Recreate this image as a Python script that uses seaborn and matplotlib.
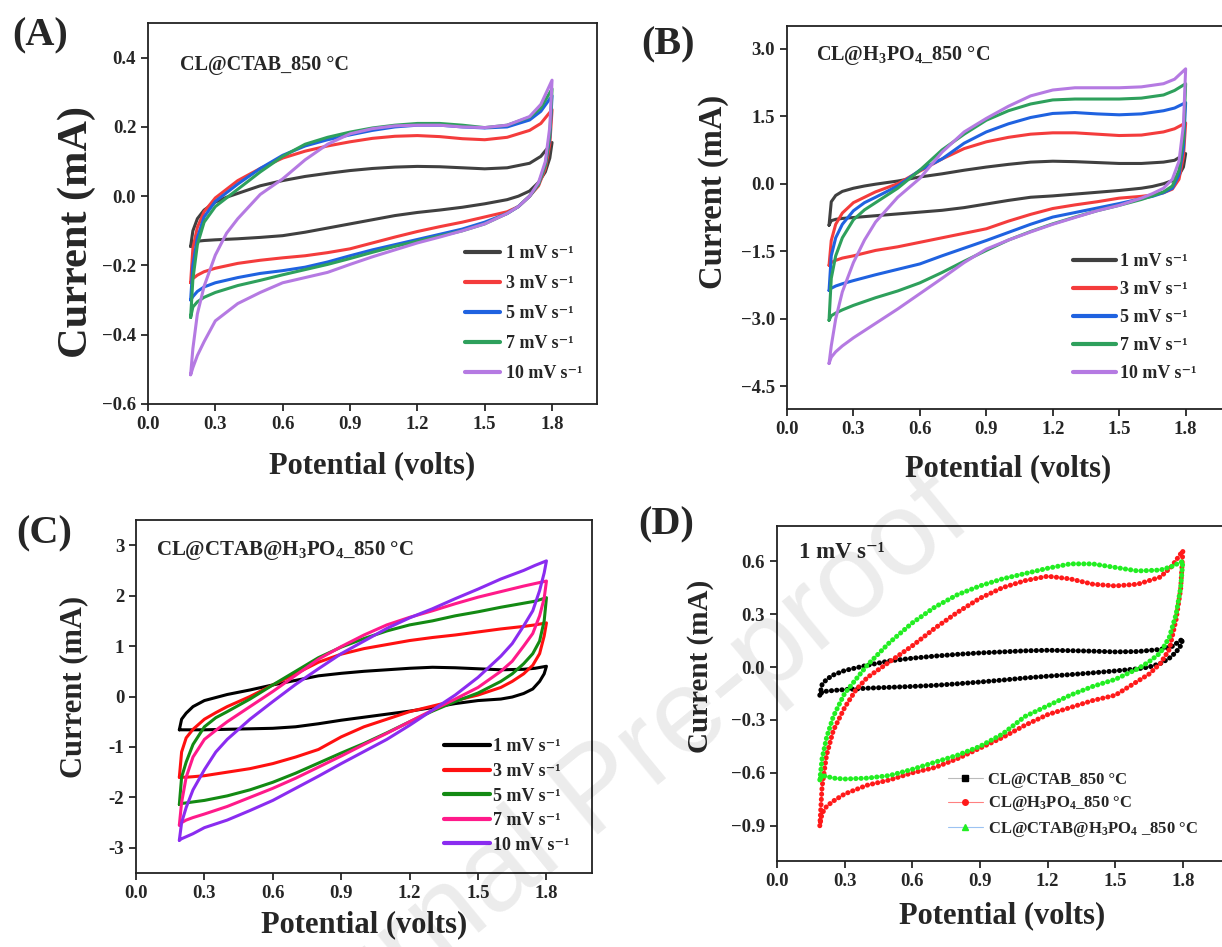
import numpy as np
import matplotlib
matplotlib.use("Agg")
import matplotlib.pyplot as plt
import seaborn as sns
from matplotlib.lines import Line2D
from matplotlib.ticker import FuncFormatter

# potential grid (V): forward sweep, then reverse sweep
E_UP = [0.19, 0.2, 0.22, 0.25, 0.3, 0.35, 0.4, 0.5, 0.6, 0.7, 0.8, 0.9, 1.0,
        1.1, 1.2, 1.3, 1.4, 1.5, 1.6, 1.7, 1.75, 1.8]
E_DN = [1.8, 1.79, 1.77, 1.74, 1.7, 1.65, 1.6, 1.5, 1.4, 1.3, 1.2, 1.1, 1.0,
        0.9, 0.8, 0.7, 0.6, 0.5, 0.4, 0.3, 0.25, 0.22, 0.2, 0.19]

RATES = ["1 mV s⁻¹", "3 mV s⁻¹", "5 mV s⁻¹", "7 mV s⁻¹", "10 mV s⁻¹"]

# (A) CL@CTAB_850 °C, current in mA
A_UP = [
    [-0.145, -0.1, -0.065, -0.04, -0.017, -0.003, 0.008, 0.03, 0.045, 0.057, 0.066, 0.074, 0.08, 0.084, 0.086, 0.085, 0.082, 0.079, 0.082, 0.095, 0.115, 0.155],
    [-0.25, -0.15, -0.09, -0.045, -0.005, 0.02, 0.045, 0.08, 0.11, 0.13, 0.145, 0.157, 0.167, 0.173, 0.175, 0.172, 0.166, 0.163, 0.17, 0.19, 0.21, 0.25],
    [-0.30, -0.2, -0.12, -0.06, -0.015, 0.01, 0.035, 0.08, 0.118, 0.145, 0.163, 0.177, 0.19, 0.2, 0.205, 0.205, 0.2, 0.197, 0.2, 0.22, 0.245, 0.29],
    [-0.35, -0.24, -0.14, -0.075, -0.03, -0.005, 0.02, 0.07, 0.115, 0.15, 0.17, 0.185, 0.197, 0.205, 0.21, 0.21, 0.205, 0.198, 0.205, 0.228, 0.255, 0.31],
    [-0.515, -0.44, -0.34, -0.26, -0.17, -0.107, -0.065, 0.005, 0.05, 0.105, 0.15, 0.18, 0.195, 0.203, 0.205, 0.205, 0.2, 0.198, 0.205, 0.23, 0.265, 0.335],
]
A_DN = [
    [0.155, 0.11, 0.07, 0.04, 0.015, 0.0, -0.01, -0.022, -0.032, -0.04, -0.047, -0.056, -0.068, -0.08, -0.092, -0.104, -0.114, -0.119, -0.123, -0.126, -0.128, -0.13, -0.135, -0.145],
    [0.25, 0.15, 0.08, 0.03, 0.0, -0.03, -0.045, -0.06, -0.075, -0.088, -0.102, -0.118, -0.135, -0.152, -0.163, -0.172, -0.178, -0.185, -0.194, -0.208, -0.218, -0.228, -0.238, -0.25],
    [0.29, 0.17, 0.09, 0.035, 0.0, -0.03, -0.05, -0.075, -0.095, -0.11, -0.125, -0.14, -0.155, -0.172, -0.19, -0.205, -0.215, -0.223, -0.235, -0.25, -0.262, -0.275, -0.29, -0.30],
    [0.31, 0.18, 0.09, 0.035, 0.0, -0.03, -0.05, -0.08, -0.1, -0.115, -0.13, -0.145, -0.162, -0.18, -0.197, -0.212, -0.227, -0.243, -0.258, -0.278, -0.292, -0.305, -0.32, -0.35],
    [0.335, 0.2, 0.1, 0.04, 0.0, -0.03, -0.05, -0.08, -0.1, -0.118, -0.135, -0.155, -0.175, -0.197, -0.22, -0.235, -0.25, -0.278, -0.31, -0.36, -0.42, -0.46, -0.495, -0.516],
]

# (B) CL@H3PO4_850 °C
B_UP = [
    [-0.92, -0.4, -0.26, -0.17, -0.1, -0.05, -0.01, 0.06, 0.15, 0.22, 0.3, 0.37, 0.43, 0.48, 0.5, 0.49, 0.47, 0.45, 0.45, 0.48, 0.52, 0.67],
    [-1.81, -1.26, -0.9, -0.65, -0.42, -0.3, -0.18, 0.0, 0.28, 0.55, 0.78, 0.93, 1.03, 1.1, 1.13, 1.13, 1.1, 1.07, 1.08, 1.15, 1.22, 1.35],
    [-2.37, -1.6, -1.2, -0.9, -0.6, -0.42, -0.3, -0.05, 0.3, 0.55, 0.9, 1.15, 1.33, 1.47, 1.56, 1.58, 1.55, 1.53, 1.55, 1.62, 1.68, 1.8],
    [-3.03, -2.1, -1.6, -1.2, -0.8, -0.58, -0.42, -0.1, 0.3, 0.75, 1.1, 1.41, 1.62, 1.77, 1.86, 1.88, 1.88, 1.88, 1.9, 1.97, 2.07, 2.22],
    [-3.99, -3.6, -3.0, -2.4, -1.75, -1.25, -0.85, -0.3, 0.12, 0.7, 1.15, 1.45, 1.72, 1.95, 2.08, 2.13, 2.13, 2.13, 2.15, 2.22, 2.32, 2.55],
]
B_DN = [
    [0.67, 0.37, 0.19, 0.07, 0.0, -0.06, -0.1, -0.15, -0.19, -0.23, -0.27, -0.3, -0.37, -0.45, -0.53, -0.59, -0.63, -0.67, -0.71, -0.75, -0.77, -0.79, -0.82, -0.92],
    [1.35, 0.6, 0.1, -0.12, -0.2, -0.25, -0.28, -0.32, -0.4, -0.47, -0.55, -0.68, -0.83, -1.0, -1.1, -1.2, -1.3, -1.4, -1.48, -1.6, -1.65, -1.7, -1.75, -1.81],
    [1.8, 0.8, 0.2, -0.1, -0.2, -0.28, -0.33, -0.44, -0.54, -0.64, -0.74, -0.9, -1.08, -1.26, -1.43, -1.6, -1.78, -1.9, -2.02, -2.15, -2.22, -2.27, -2.32, -2.37],
    [2.22, 1.0, 0.3, -0.05, -0.18, -0.27, -0.35, -0.48, -0.6, -0.74, -0.89, -1.06, -1.25, -1.48, -1.72, -1.97, -2.2, -2.38, -2.53, -2.7, -2.8, -2.87, -2.93, -3.03],
    [2.55, 1.3, 0.5, 0.1, -0.1, -0.22, -0.32, -0.48, -0.6, -0.75, -0.9, -1.07, -1.25, -1.45, -1.75, -2.1, -2.44, -2.78, -3.1, -3.42, -3.6, -3.73, -3.85, -3.99],
]

# (C) CL@CTAB@H3PO4_850 °C
C_UP = [
    [-0.66, -0.45, -0.33, -0.2, -0.08, -0.02, 0.04, 0.13, 0.23, 0.32, 0.41, 0.46, 0.5, 0.53, 0.56, 0.58, 0.57, 0.55, 0.53, 0.54, 0.56, 0.6],
    [-1.6, -1.1, -0.82, -0.65, -0.45, -0.32, -0.2, 0.0, 0.23, 0.45, 0.68, 0.84, 0.95, 1.03, 1.11, 1.17, 1.22, 1.28, 1.34, 1.39, 1.42, 1.46],
    [-2.14, -1.6, -1.3, -0.95, -0.6, -0.42, -0.3, -0.05, 0.23, 0.5, 0.77, 0.98, 1.15, 1.3, 1.42, 1.5, 1.6, 1.68, 1.77, 1.85, 1.89, 1.96],
    [-2.55, -2.1, -1.6, -1.2, -0.85, -0.67, -0.5, -0.2, 0.1, 0.42, 0.74, 0.99, 1.22, 1.42, 1.57, 1.7, 1.84, 1.97, 2.08, 2.19, 2.24, 2.29],
    [-2.85, -2.5, -2.2, -1.85, -1.45, -1.1, -0.85, -0.45, -0.1, 0.24, 0.55, 0.85, 1.1, 1.35, 1.56, 1.74, 1.94, 2.13, 2.33, 2.5, 2.6, 2.69],
]
C_DN = [
    [0.6, 0.45, 0.3, 0.15, 0.06, -0.01, -0.05, -0.08, -0.14, -0.22, -0.29, -0.35, -0.41, -0.47, -0.54, -0.6, -0.63, -0.64, -0.65, -0.66, -0.66, -0.66, -0.66, -0.66],
    [1.46, 1.2, 0.85, 0.62, 0.45, 0.3, 0.18, 0.03, -0.08, -0.19, -0.3, -0.45, -0.6, -0.8, -1.05, -1.2, -1.33, -1.43, -1.5, -1.57, -1.59, -1.6, -1.6, -1.6],
    [1.96, 1.5, 1.1, 0.85, 0.65, 0.45, 0.3, 0.07, -0.1, -0.29, -0.5, -0.72, -0.93, -1.12, -1.32, -1.52, -1.7, -1.85, -1.97, -2.06, -2.09, -2.11, -2.12, -2.14],
    [2.29, 1.95, 1.6, 1.25, 1.0, 0.7, 0.5, 0.18, -0.05, -0.27, -0.5, -0.73, -0.95, -1.18, -1.4, -1.62, -1.82, -2.0, -2.18, -2.33, -2.4, -2.45, -2.5, -2.55],
    [2.69, 2.45, 2.1, 1.7, 1.4, 1.05, 0.8, 0.38, 0.03, -0.27, -0.57, -0.85, -1.09, -1.33, -1.58, -1.82, -2.06, -2.26, -2.45, -2.6, -2.72, -2.78, -2.82, -2.85],
]

# (D) comparison at 1 mV/s
SAMPLES = ["CL@CTAB_850 °C", "CL@H$_3$PO$_4$_850 °C", "CL@CTAB@H$_3$PO$_4$ _850 °C"]
D_UP = [
    [-0.16, -0.1, -0.07, -0.045, -0.02, -0.005, 0.01, 0.035, 0.05, 0.062, 0.072, 0.08, 0.086, 0.092, 0.095, 0.093, 0.09, 0.086, 0.088, 0.1, 0.115, 0.16],
    [-0.9, -0.68, -0.5, -0.36, -0.23, -0.13, -0.06, 0.03, 0.12, 0.22, 0.31, 0.39, 0.45, 0.49, 0.515, 0.5, 0.47, 0.46, 0.47, 0.51, 0.57, 0.66],
    [-0.64, -0.52, -0.4, -0.28, -0.15, -0.07, 0.01, 0.14, 0.25, 0.34, 0.41, 0.46, 0.5, 0.53, 0.56, 0.585, 0.585, 0.565, 0.545, 0.55, 0.57, 0.6],
]
D_DN = [
    [0.16, 0.12, 0.085, 0.05, 0.02, 0.0, -0.01, -0.022, -0.033, -0.043, -0.052, -0.062, -0.074, -0.085, -0.095, -0.104, -0.11, -0.115, -0.12, -0.128, -0.133, -0.137, -0.142, -0.16],
    [0.66, 0.44, 0.27, 0.1, 0.02, -0.04, -0.08, -0.16, -0.19, -0.23, -0.27, -0.33, -0.4, -0.46, -0.52, -0.57, -0.6, -0.64, -0.67, -0.72, -0.76, -0.79, -0.83, -0.9],
    [0.6, 0.45, 0.3, 0.17, 0.08, 0.03, -0.01, -0.07, -0.11, -0.16, -0.22, -0.28, -0.38, -0.45, -0.5, -0.54, -0.58, -0.615, -0.63, -0.635, -0.63, -0.62, -0.615, -0.64],
]

COL_AB = ["#404040", "#f43c3c", "#1f62e0", "#2ea05c", "#b57ae2"]
COL_C = ["#000000", "#ff1010", "#138a13", "#ff1a8a", "#8a2cf0"]
COL_D = ["#000000", "#ff1a1a", "#22ee22"]

sns.set_theme(style="ticks")
plt.rcParams.update({
    "font.family": ["Liberation Serif", "DejaVu Serif"],
    "font.weight": "bold",
    "axes.labelweight": "bold",
    "mathtext.fontset": "custom",
    "mathtext.rm": "Liberation Serif:bold",
    "mathtext.it": "Liberation Serif:bold:italic",
    "mathtext.bf": "Liberation Serif:bold",
    "axes.linewidth": 1.3,
    "axes.edgecolor": "#222222",
    "xtick.major.width": 1.3,
    "ytick.major.width": 1.3,
    "xtick.major.size": 5,
    "ytick.major.size": 5,
    "xtick.labelsize": 13.5,
    "ytick.labelsize": 13.5,
})

fig = plt.figure(figsize=(12.22, 9.47), dpi=100)
axA = fig.add_axes([0.1211, 0.5734, 0.3674, 0.4023])
axB = fig.add_axes([0.6440, 0.5681, 0.3625, 0.4044])
axC = fig.add_axes([0.1113, 0.0781, 0.3732, 0.3728])
axD = fig.add_axes([0.6358, 0.0908, 0.3691, 0.3538])


def cv_loops(ax, ups, dns, colors, labels, lw):
    for up, dn, c, lab in zip(ups, dns, colors, labels):
        sns.lineplot(x=E_UP + E_DN, y=up + dn, sort=False, estimator=None,
                     color=c, lw=lw, ax=ax, label=lab)


def style_axes(ax, ylim, yticks, ysize, ypos, ypad, xpad):
    ax.set_xlim(0, 2.0)
    ax.set_ylim(*ylim)
    ax.set_xticks(np.arange(0, 1.81, 0.3))
    ax.set_yticks(yticks)
    ax.tick_params(top=False, right=False, direction="out")
    for s in ax.spines.values():
        s.set_visible(True)
        s.set_linewidth(1.3)
    ax.set_xlabel("Potential (volts)", fontsize=22, labelpad=xpad)
    ax.set_ylabel("Current (mA)", fontsize=ysize, labelpad=ypad, y=ypos)


def rate_legend(ax, anchor, handlelength, spacing, textpad):
    leg = ax.legend(loc="center left", bbox_to_anchor=anchor, frameon=False, fontsize=13,
                    handlelength=handlelength, handletextpad=textpad, labelspacing=spacing,
                    borderpad=0, borderaxespad=0)
    for l in leg.get_lines():
        l.set_linewidth(3)


cv_loops(axA, A_UP, A_DN, COL_AB, RATES, 2.2)
style_axes(axA, (-0.6, 0.5), np.arange(-0.6, 0.41, 0.2), 30.5, 0.451, ypad=4, xpad=13)
axA.text(0.071, 0.89, "CL@CTAB_850 °C", transform=axA.transAxes, fontsize=14.5, va="center")
rate_legend(axA, (0.706, 0.237), 1.95, 0.72, 0.3)

cv_loops(axB, B_UP, B_DN, COL_AB, RATES, 2.2)
style_axes(axB, (-5.0, 3.5), np.arange(-4.5, 3.01, 1.5), 23.5, 0.567, ypad=9, xpad=12)
axB.text(0.065, 0.924, "CL@H$_3$PO$_4$_850 °C", transform=axB.transAxes, fontsize=14.5, va="center")
rate_legend(axB, (0.646, 0.238), 2.4, 0.61, 0.2)

cv_loops(axC, C_UP, C_DN, COL_C, RATES, 2.2)
style_axes(axC, (-3.5, 3.5), np.arange(-3, 3.1, 1), 22, 0.528, ypad=15, xpad=6)
axC.yaxis.set_major_formatter(FuncFormatter(lambda v, p: f"{v:.0f}"))
axC.text(0.044, 0.915, "CL@CTAB@H$_3$PO$_4$_850 °C", transform=axC.transAxes, fontsize=15, va="center")
rate_legend(axC, (0.675, 0.218), 2.55, 0.42, 0.2)

# panel D: dense marker chains imitated with round dotted lines
for up, dn, c in zip(D_UP, D_DN, COL_D):
    sns.lineplot(x=E_UP + E_DN, y=up + dn, sort=False, estimator=None, color=c, lw=3.6,
                 linestyle=(0, (0.05, 1.0)), dash_capstyle="round", ax=axD)
style_axes(axD, (-1.1, 0.8), np.arange(-0.9, 0.61, 0.3), 21, 0.58, ypad=12, xpad=8)
axD.text(0.049, 0.92, "1 mV s⁻¹", transform=axD.transAxes, fontsize=16.5, va="center")
handles = [
    Line2D([], [], color="#bbbbbb", lw=0.8, marker="s", ms=4, mfc="#000000", mec="#000000"),
    Line2D([], [], color="#ff8080", lw=0.8, marker="o", ms=4, mfc="#ff1a1a", mec="#ff1a1a"),
    Line2D([], [], color="#9cc3f2", lw=0.8, marker="^", ms=4, mfc="#22ee22", mec="#22ee22"),
]
axD.legend(handles, SAMPLES, loc="center left", bbox_to_anchor=(0.379, 0.166), frameon=False,
           fontsize=12, handlelength=2.1, handletextpad=0.3, labelspacing=0.4,
           borderpad=0, borderaxespad=0)

# panel letters
fig.text(0.0098, 0.962, "(A)", fontsize=29, va="center")
fig.text(0.5245, 0.9525, "(B)", fontsize=29, va="center")
fig.text(0.013, 0.436, "(C)", fontsize=29, va="center")
fig.text(0.522, 0.4456, "(D)", fontsize=29, va="center")

# watermark
fig.text(0.7815, 0.472, "Journal Pre-proof", rotation=39.5, rotation_mode="anchor",
         ha="right", va="center", fontsize=86, color="#000000", alpha=0.08,
         family="Liberation Sans", fontweight="normal", zorder=10)

fig.savefig("out.png", dpi=100)
